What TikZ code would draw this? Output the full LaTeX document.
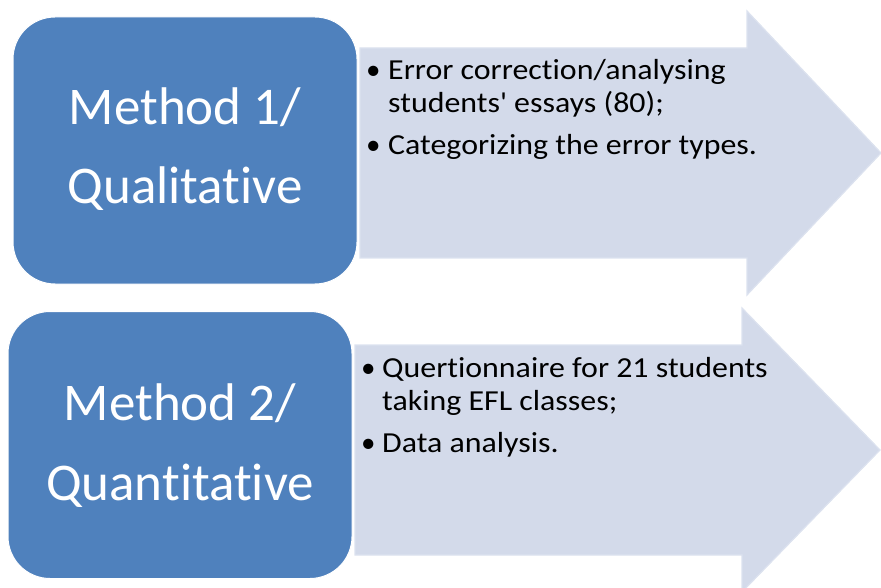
\documentclass[tikz,border=0pt]{standalone}
\usepackage{fontspec}
\setmainfont{Carlito}[Ligatures=NoCommon]
\newfontfamily\plainfont{Carlito}[Ligatures=NoCommon]
\definecolor{boxblue}{HTML}{4F81BD}
\definecolor{arrowfill}{HTML}{D3DAEA}
\definecolor{arrowedge}{HTML}{DCE2EF}
\newcommand{\wide}[1]{\scalebox{1.1}[1]{#1}}
\begin{document}
\begin{tikzpicture}[x=1pt,y=-1pt,
  methodbox/.style={draw=white, line width=1pt, fill=boxblue, rounded corners=42pt,
    minimum width=344pt, minimum height=267pt, inner sep=0pt},
  arrowshape/.style={fill=arrowfill, draw=arrowedge, line width=1.2pt, line join=miter},
  boxtext/.style={text=white, font=\plainfont\fontsize{53}{62}\selectfont, anchor=base, inner sep=0pt},
  itemtext/.style={font=\plainfont\fontsize{29}{34}\selectfont, anchor=base west, inner sep=0pt},
  bulletmark/.style={font=\plainfont\fontsize{29}{34}\selectfont, anchor=base west, inner sep=0pt},
]
\useasboundingbox (0,0) rectangle (881,588);
\clip (0,0) rectangle (881,588);

% ---------- group 1 ----------
\begin{scope}
  \draw[arrowshape] (360,48) -- (747,48) -- (747,11) -- (881,153) -- (747,295) -- (747,258) -- (360,258) -- cycle;
  \node[methodbox] (box1) at (185,150.5) {};
  \node[boxtext] (m1a) at (185,125) {Method 1/};
  \node[boxtext] (m1b) at (185,204) {Qualitative};
  \node[bulletmark] (b1a) at (366,80) {\textbullet};
  \node[itemtext] (t1a) at (388,80) {\wide{Error correction/analysing}};
  \node[itemtext] (t1b) at (388,113) {\wide{students' essays (80);}};
  \node[bulletmark] (b1b) at (366,155) {\textbullet};
  \node[itemtext] (t1c) at (388,155) {\wide{Categorizing the error types.}};
\end{scope}

% ---------- group 2 ----------
\begin{scope}
  \draw[arrowshape] (355,345) -- (742,345) -- (742,308) -- (880,450) -- (742,592) -- (742,555) -- (355,555) -- cycle;
  \node[methodbox] (box2) at (180,445) {};
  \node[boxtext] (m2a) at (180,420) {Method 2/};
  \node[boxtext] (m2b) at (180,500) {Quantitative};
  \node[bulletmark] (b2a) at (361,377) {\textbullet};
  \node[itemtext] (t2a) at (382,377) {\wide{Quertionnaire for 21 students}};
  \node[itemtext] (t2b) at (382,410) {\wide{taking EFL classes;}};
  \node[bulletmark] (b2b) at (361,452) {\textbullet};
  \node[itemtext] (t2c) at (382,452) {\wide{Data analysis.}};
\end{scope}
\end{tikzpicture}
\end{document}
